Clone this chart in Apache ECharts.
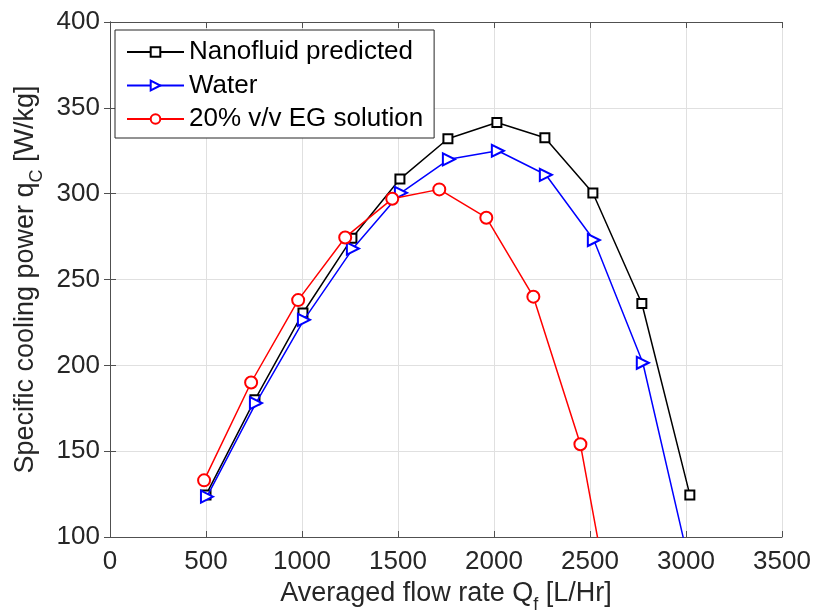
<!DOCTYPE html>
<html>
<head>
<meta charset="utf-8">
<script src="https://cdn.jsdelivr.net/npm/echarts@6/dist/echarts.min.js"></script>
<style>html,body{margin:0;padding:0;background:#fff;}#c{width:813px;height:613px;}</style>
</head>
<body>
<div id="c"></div>
<script>
const nanoX = [500, 755, 1005, 1260, 1510, 1760, 2015, 2265, 2515, 2770, 3020];
const nanoY = [124.5, 180, 230.5, 274, 308.5, 332, 341.5, 332.6, 300.4, 236, 124.5];
const waterX = [505, 760, 1010, 1265, 1515, 1765, 2020, 2270, 2520, 2775, 3020];
const waterY = [123.5, 178, 226.5, 268, 300.5, 320, 325, 311, 273, 201.5, 83];
const egX = [490, 735, 980, 1225, 1470, 1715, 1960, 2205, 2450, 2695];
const egY = [133, 190, 238, 274.5, 297, 302.5, 286, 240, 154, 5];
const seriesNames = ['Nanofluid predicted', 'Water', '20% v/v EG solution'];
const xTicks = [0, 500, 1000, 1500, 2000, 2500, 3000, 3500];
const yTicks = [100, 150, 200, 250, 300, 350, 400];

const zip = (xs, ys) => xs.map((x, i) => [x, ys[i]]);
const FONT = '"Liberation Sans", Arial, Helvetica, sans-serif';
const TXT = '#262626';
const AX = '#505050';

const chart = echarts.init(document.getElementById('c'), null, {renderer: 'canvas'});
const baseX = {
  type: 'value', min: xTicks[0], max: xTicks[xTicks.length - 1], interval: 500
};
const baseY = {
  type: 'value', min: yTicks[0], max: yTicks[yTicks.length - 1], interval: 50
};
const subRich = {
  a: {fontSize: 27, color: TXT, fontFamily: FONT, lineHeight: 31, verticalAlign: 'top'},
  s: {fontSize: 18, color: TXT, fontFamily: FONT, lineHeight: 18, verticalAlign: 'top', padding: [16, 0, 0, 0]}
};
chart.setOption({
  animation: false,
  backgroundColor: '#fff',
  textStyle: {fontFamily: FONT},
  grid: {left: 110, right: 31, top: 22, bottom: 76, containLabel: false, outerBoundsMode: 'none'},
  legend: {
    orient: 'vertical', left: 115, top: 30,
    padding: [8, 11, 5, 11],
    itemWidth: 57, itemHeight: 12, itemGap: 5.5,
    borderColor: TXT, borderWidth: 1, backgroundColor: '#fff',
    textStyle: {fontSize: 26, color: '#000', fontFamily: FONT, lineHeight: 28},
    data: seriesNames
  },
  xAxis: [
    Object.assign({}, baseX, {
      position: 'bottom',
      name: '{a|Averaged flow rate Q}{s|f}{a| [L/Hr]}',
      nameLocation: 'middle', nameGap: 41,
      nameTextStyle: {color: TXT, fontFamily: FONT, rich: subRich},
      axisLine: {show: true, lineStyle: {color: AX, width: 1}},
      axisTick: {show: true, inside: true, length: 6, lineStyle: {color: AX}},
      axisLabel: {fontSize: 26, color: TXT, fontFamily: FONT, margin: 12, formatter: v => String(v)},
      splitLine: {show: true, lineStyle: {color: '#e0e0e0', width: 1}}
    }),
    Object.assign({}, baseX, {
      position: 'top',
      axisLine: {show: true, lineStyle: {color: AX, width: 1}},
      axisTick: {show: true, inside: true, length: 6, lineStyle: {color: AX}},
      axisLabel: {show: false},
      splitLine: {show: false}
    })
  ],
  yAxis: [
    Object.assign({}, baseY, {
      position: 'left',
      name: '{a|Specific cooling power q}{s|C}{a| [W/kg]}',
      nameLocation: 'middle', nameGap: 63, nameRotate: 90,
      nameTextStyle: {color: TXT, fontFamily: FONT, rich: subRich},
      axisLine: {show: true, lineStyle: {color: AX, width: 1}},
      axisTick: {show: true, inside: true, length: 6, lineStyle: {color: AX}},
      axisLabel: {fontSize: 26, color: TXT, fontFamily: FONT, margin: 10, formatter: v => String(v)},
      splitLine: {show: true, lineStyle: {color: '#e0e0e0', width: 1}}
    }),
    Object.assign({}, baseY, {
      position: 'right',
      axisLine: {show: true, lineStyle: {color: AX, width: 1}},
      axisTick: {show: true, inside: true, length: 6, lineStyle: {color: AX}},
      axisLabel: {show: false},
      splitLine: {show: false}
    })
  ],
  series: [
    {
      name: seriesNames[0], type: 'line', xAxisIndex: 0, yAxisIndex: 0,
      data: zip(nanoX, nanoY), clip: true,
      symbol: 'emptyRect', symbolSize: 9,
      lineStyle: {color: '#000', width: 1.5},
      itemStyle: {color: '#000', borderWidth: 1.5},
      z: 1
    },
    {
      name: seriesNames[1], type: 'line', xAxisIndex: 0, yAxisIndex: 0,
      data: zip(waterX, waterY), clip: true,
      symbol: 'emptyTriangle', symbolSize: 12, symbolRotate: -90,
      lineStyle: {color: '#0000ff', width: 1.5},
      itemStyle: {color: '#0000ff', borderWidth: 1.5},
      z: 2
    },
    {
      name: seriesNames[2], type: 'line', xAxisIndex: 0, yAxisIndex: 0,
      data: zip(egX, egY), clip: true,
      symbol: 'emptyCircle', symbolSize: 12,
      lineStyle: {color: '#ff0000', width: 1.5},
      itemStyle: {color: '#ff0000', borderWidth: 1.5},
      z: 3
    }
  ]
});
</script>
</body>
</html>
